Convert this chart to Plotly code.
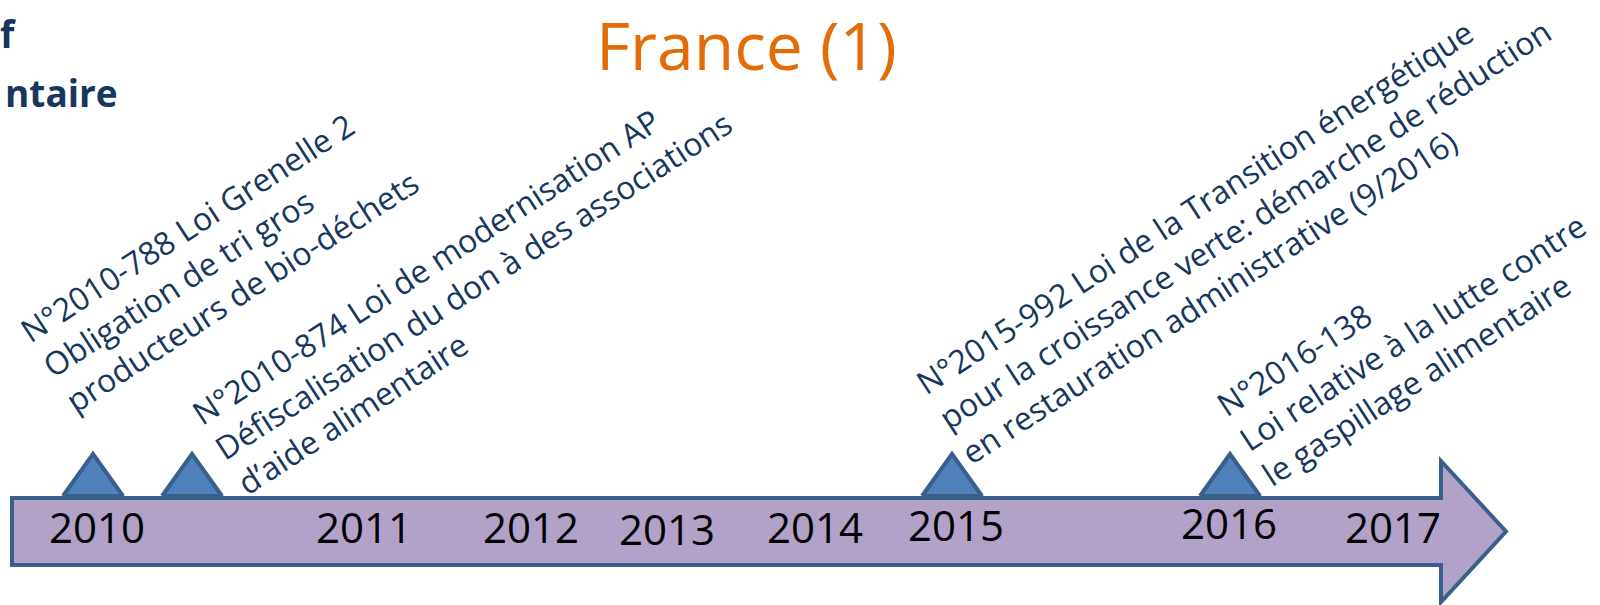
import plotly.graph_objects as go

# ---------------- data ----------------
year_labels = ["2010", "2011", "2012", "2013", "2014", "2015", "2016", "2017"]
year_pos = [97, 364, 531, 667, 815, 956, 1229, 1393]
year_y = [532, 532, 532, 534, 532, 530, 528, 532]

event_pos = [93, 192, 952, 1230]
event_texts = [
    "N°2010-788 Loi Grenelle 2<br>Obligation de tri gros<br>producteurs de bio-déchets",
    "N°2010-874 Loi de modernisation AP<br>Défiscalisation du don à des associations<br>d’aide alimentaire",
    "N°2015-992 Loi de la Transition énergétique<br>pour la croissance verte: démarche de réduction<br>en restauration administrative (9/2016)",
    "N°2016-138<br>Loi relative à la lutte contre<br>le gaspillage alimentaire",
]
event_text_x = [219, 473, 1244, 1412]
event_text_y = [256, 285, 224, 332]

title_text = "France (1)"
# visible (cropped) part of the heading at the top-left of the slide
side_lines = ["f", "ntaire"]

# ---------------- styles ----------------
OUTLINE = "#3a5f8a"
ARROW_FILL = "#b3a2c7"
TRI_FILL = "#4f81bd"
TEXT_BLUE = "#17375e"
ORANGE = "#e36c09"

fig = go.Figure()

# arrow body + head
body_l, body_r, body_t, body_b = 12, 1441, 498, 565
head_t, head_b, tip_x = 461, 602, 1506
mid = (body_t + body_b) / 2
arrow_path = (f"M{body_l},{body_t} L{body_r},{body_t} L{body_r},{head_t} "
              f"L{tip_x},{mid} L{body_r},{head_b} L{body_r},{body_b} "
              f"L{body_l},{body_b} Z")
fig.add_shape(type="path", path=arrow_path, xref="x", yref="y",
              fillcolor=ARROW_FILL, line=dict(color=OUTLINE, width=4), layer="below")

# event triangles
tri_half, tri_top, tri_base = 30, 454, 496
for ex in event_pos:
    fig.add_trace(go.Scatter(
        x=[ex - tri_half, ex, ex + tri_half, ex - tri_half],
        y=[tri_base, tri_top, tri_base, tri_base],
        mode="lines", fill="toself", fillcolor=TRI_FILL,
        line=dict(color=OUTLINE, width=4), hoverinfo="skip", showlegend=False))

# year labels
fig.add_trace(go.Scatter(
    x=year_pos, y=year_y, mode="text", text=year_labels,
    textposition="middle center",
    textfont=dict(family="Open Sans", size=42, color="black"),
    hoverinfo="skip", showlegend=False))

# rotated event annotations
for t, x, y in zip(event_texts, event_text_x, event_text_y):
    fig.add_annotation(x=x, y=y, xref="x", yref="y", text=t, showarrow=False,
                       textangle=-33, xanchor="center", yanchor="middle",
                       align="left",
                       font=dict(family="Open Sans", size=32, color=TEXT_BLUE))

# title
fig.add_annotation(x=746, y=44, xref="x", yref="y", text=title_text, showarrow=False,
                   xanchor="center", yanchor="middle",
                   font=dict(family="Open Sans", size=66, color=ORANGE))

# cropped heading fragments (top-left)
fig.add_annotation(x=18, y=33, xref="x", yref="y", text=f"<b>{side_lines[0]}</b>",
                   showarrow=False, xanchor="right", yanchor="middle",
                   font=dict(family="Open Sans", size=37, color=TEXT_BLUE))
fig.add_annotation(x=120, y=92, xref="x", yref="y", text=f"<b>{side_lines[1]}</b>",
                   showarrow=False, xanchor="right", yanchor="middle",
                   font=dict(family="Open Sans", size=37, color=TEXT_BLUE))

fig.update_layout(
    width=1600, height=605,
    margin=dict(l=0, r=0, t=0, b=0),
    paper_bgcolor="white", plot_bgcolor="white",
    xaxis=dict(range=[0, 1600], visible=False, fixedrange=True),
    yaxis=dict(range=[605, 0], visible=False, fixedrange=True),
    showlegend=False,
)

fig.write_html("out.html", config={"displayModeBar": False},
               post_script="document.body.style.margin='0';document.body.style.overflow='hidden';")
